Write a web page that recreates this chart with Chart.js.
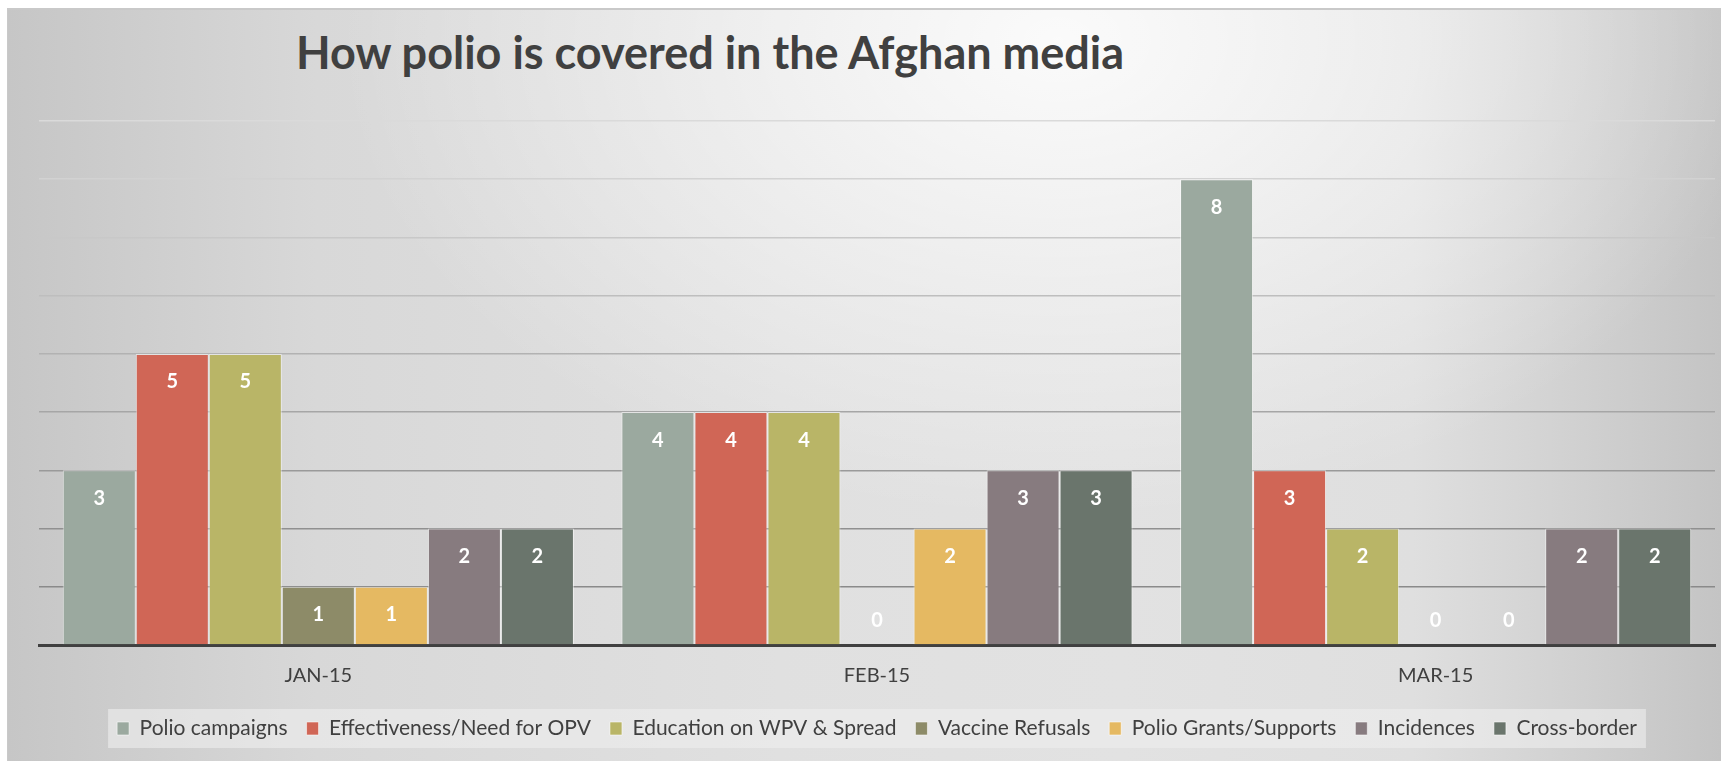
<!DOCTYPE html>
<html>
<head>
<meta charset="utf-8">
<script src="https://cdn.jsdelivr.net/npm/chart.js@4.4.1/dist/chart.umd.min.js"></script>
<style>
    body { margin: 0; background: #ffffff; }
    #marco {
        position: absolute;
        left: 7px;
        top: 8px;
        width: 1714px;
        height: 753px;
        border-top: 2px solid #c9c9c9;
        border-left: 1px solid #c9c9c9;
        box-sizing: border-box;
        background:
            radial-gradient(ellipse 720px 480px at 1050px 30px, rgba(255,255,255,0.85) 0%, rgba(255,255,255,0) 100%),
            linear-gradient(to right, #c6c6c6 0%, #d8d8d8 18%, #e0e0e0 45%, #e2e2e2 65%, #dfdfdf 82%, #c4c4c4 100%);
    }
    #titulo {
        position: absolute;
        left: 288px;
        top: 20px;
        font-family: Lato, sans-serif;
        font-weight: bold;
        font-size: 45px;
        line-height: 45px;
        color: #404040;
        white-space: nowrap;
    }
    #grafico { position: absolute; left: 0; top: 0; }
</style>
</head>
<body>
<div id="marco">
    <div id="titulo">How polio is covered in the Afghan media</div>
    <canvas id="grafico" width="1713" height="751"></canvas>
</div>
<script>
const months = ["JAN-15", "FEB-15", "MAR-15"];

const polioCampaigns = [3, 4, 8];
const effectivenessOPV = [5, 4, 3];
const educationWPV = [5, 4, 2];
const vaccineRefusals = [1, 0, 0];
const polioGrants = [1, 2, 0];
const incidences = [2, 3, 2];
const crossBorder = [2, 3, 2];

const seriesNames = ["Polio campaigns", "Effectiveness/Need for OPV", "Education on WPV & Spread",
    "Vaccine Refusals", "Polio Grants/Supports", "Incidences", "Cross-border"];
const seriesValues = [polioCampaigns, effectivenessOPV, educationWPV, vaccineRefusals,
    polioGrants, incidences, crossBorder];
const seriesColors = ["#9ba99f", "#d06656", "#b9b567", "#8d8b68", "#e5b962", "#877b7f", "#6a756c"];

// shade of the horizontal grid lines: lighter at the top of the chart
const gridShades = ["#444", "#8a8a8a", "#909090", "#9a9a9a", "#a6a6a6", "#b2b2b2", "#bebebe", "#c8c8c8", "#d2d2d2", "#dadada"];

let datasets = [];
for (let i = 0; i < seriesNames.length; i++) {
    datasets.push({
        label: seriesNames[i],
        data: seriesValues[i],
        backgroundColor: seriesColors[i],
        borderColor: "rgba(255,255,255,0.55)",
        borderWidth: 1,
        categoryPercentage: 0.915,
        barPercentage: 1.0
    });
}

// white value labels inside the bars
const valueLabels = {
    id: 'valueLabels',
    afterDatasetsDraw(chart) {
        const ctx = chart.ctx;
        ctx.save();
        ctx.font = "bold 20px Lato";
        ctx.fillStyle = "#ffffff";
        ctx.textAlign = "center";
        ctx.textBaseline = "middle";
        chart.data.datasets.forEach(function (ds, i) {
            chart.getDatasetMeta(i).data.forEach(function (bar, j) {
                let v = ds.data[j];
                let y = v > 0 ? bar.y + 28 : bar.base - 24;
                ctx.fillText(String(v), bar.x, y);
            });
        });
        ctx.restore();
    }
};

// lighter box behind the legend
const legendBox = {
    id: 'legendBox',
    beforeDraw(chart) {
        const boxes = chart.legend.legendHitBoxes;
        if (!boxes || !boxes.length) return;
        let left = boxes[0].left, right = 0, top = boxes[0].top, bottom = 0;
        boxes.forEach(function (b) {
            left = Math.min(left, b.left);
            right = Math.max(right, b.left + b.width);
            top = Math.min(top, b.top);
            bottom = Math.max(bottom, b.top + b.height);
        });
        const ctx = chart.ctx;
        ctx.save();
        ctx.fillStyle = "rgba(238,238,238,0.6)";
        ctx.fillRect(left - 9, top - 9, right - left + 18, bottom - top + 18);
        ctx.restore();
    }
};

const ctx = document.getElementById('grafico');

new Chart(ctx, {
    type: 'bar',
    data: {
        labels: months,
        datasets: datasets
    },
    plugins: [legendBox, valueLabels],
    options: {
        responsive: false,
        animation: false,
        layout: {
            padding: { left: 31, right: 6, top: 111, bottom: 12 }
        },
        scales: {
            x: {
                grid: { display: false },
                border: { color: "#404040", width: 3 },
                ticks: {
                    color: "#404040",
                    font: { family: "Lato", size: 20 },
                    padding: 11
                }
            },
            y: {
                min: 0,
                max: 9,
                ticks: { display: false, stepSize: 1 },
                border: { display: false },
                grid: {
                    drawTicks: false,
                    lineWidth: 1.5,
                    color: function (c) {
                        return gridShades[c.tick.value] || "#999";
                    }
                }
            }
        },
        plugins: {
            legend: {
                position: 'bottom',
                labels: {
                    color: "#404040",
                    font: { family: "Lato", size: 21 },
                    boxWidth: 12,
                    boxHeight: 13,
                    padding: 19
                }
            },
            tooltip: { enabled: false }
        }
    }
});
</script>
</body>
</html>
